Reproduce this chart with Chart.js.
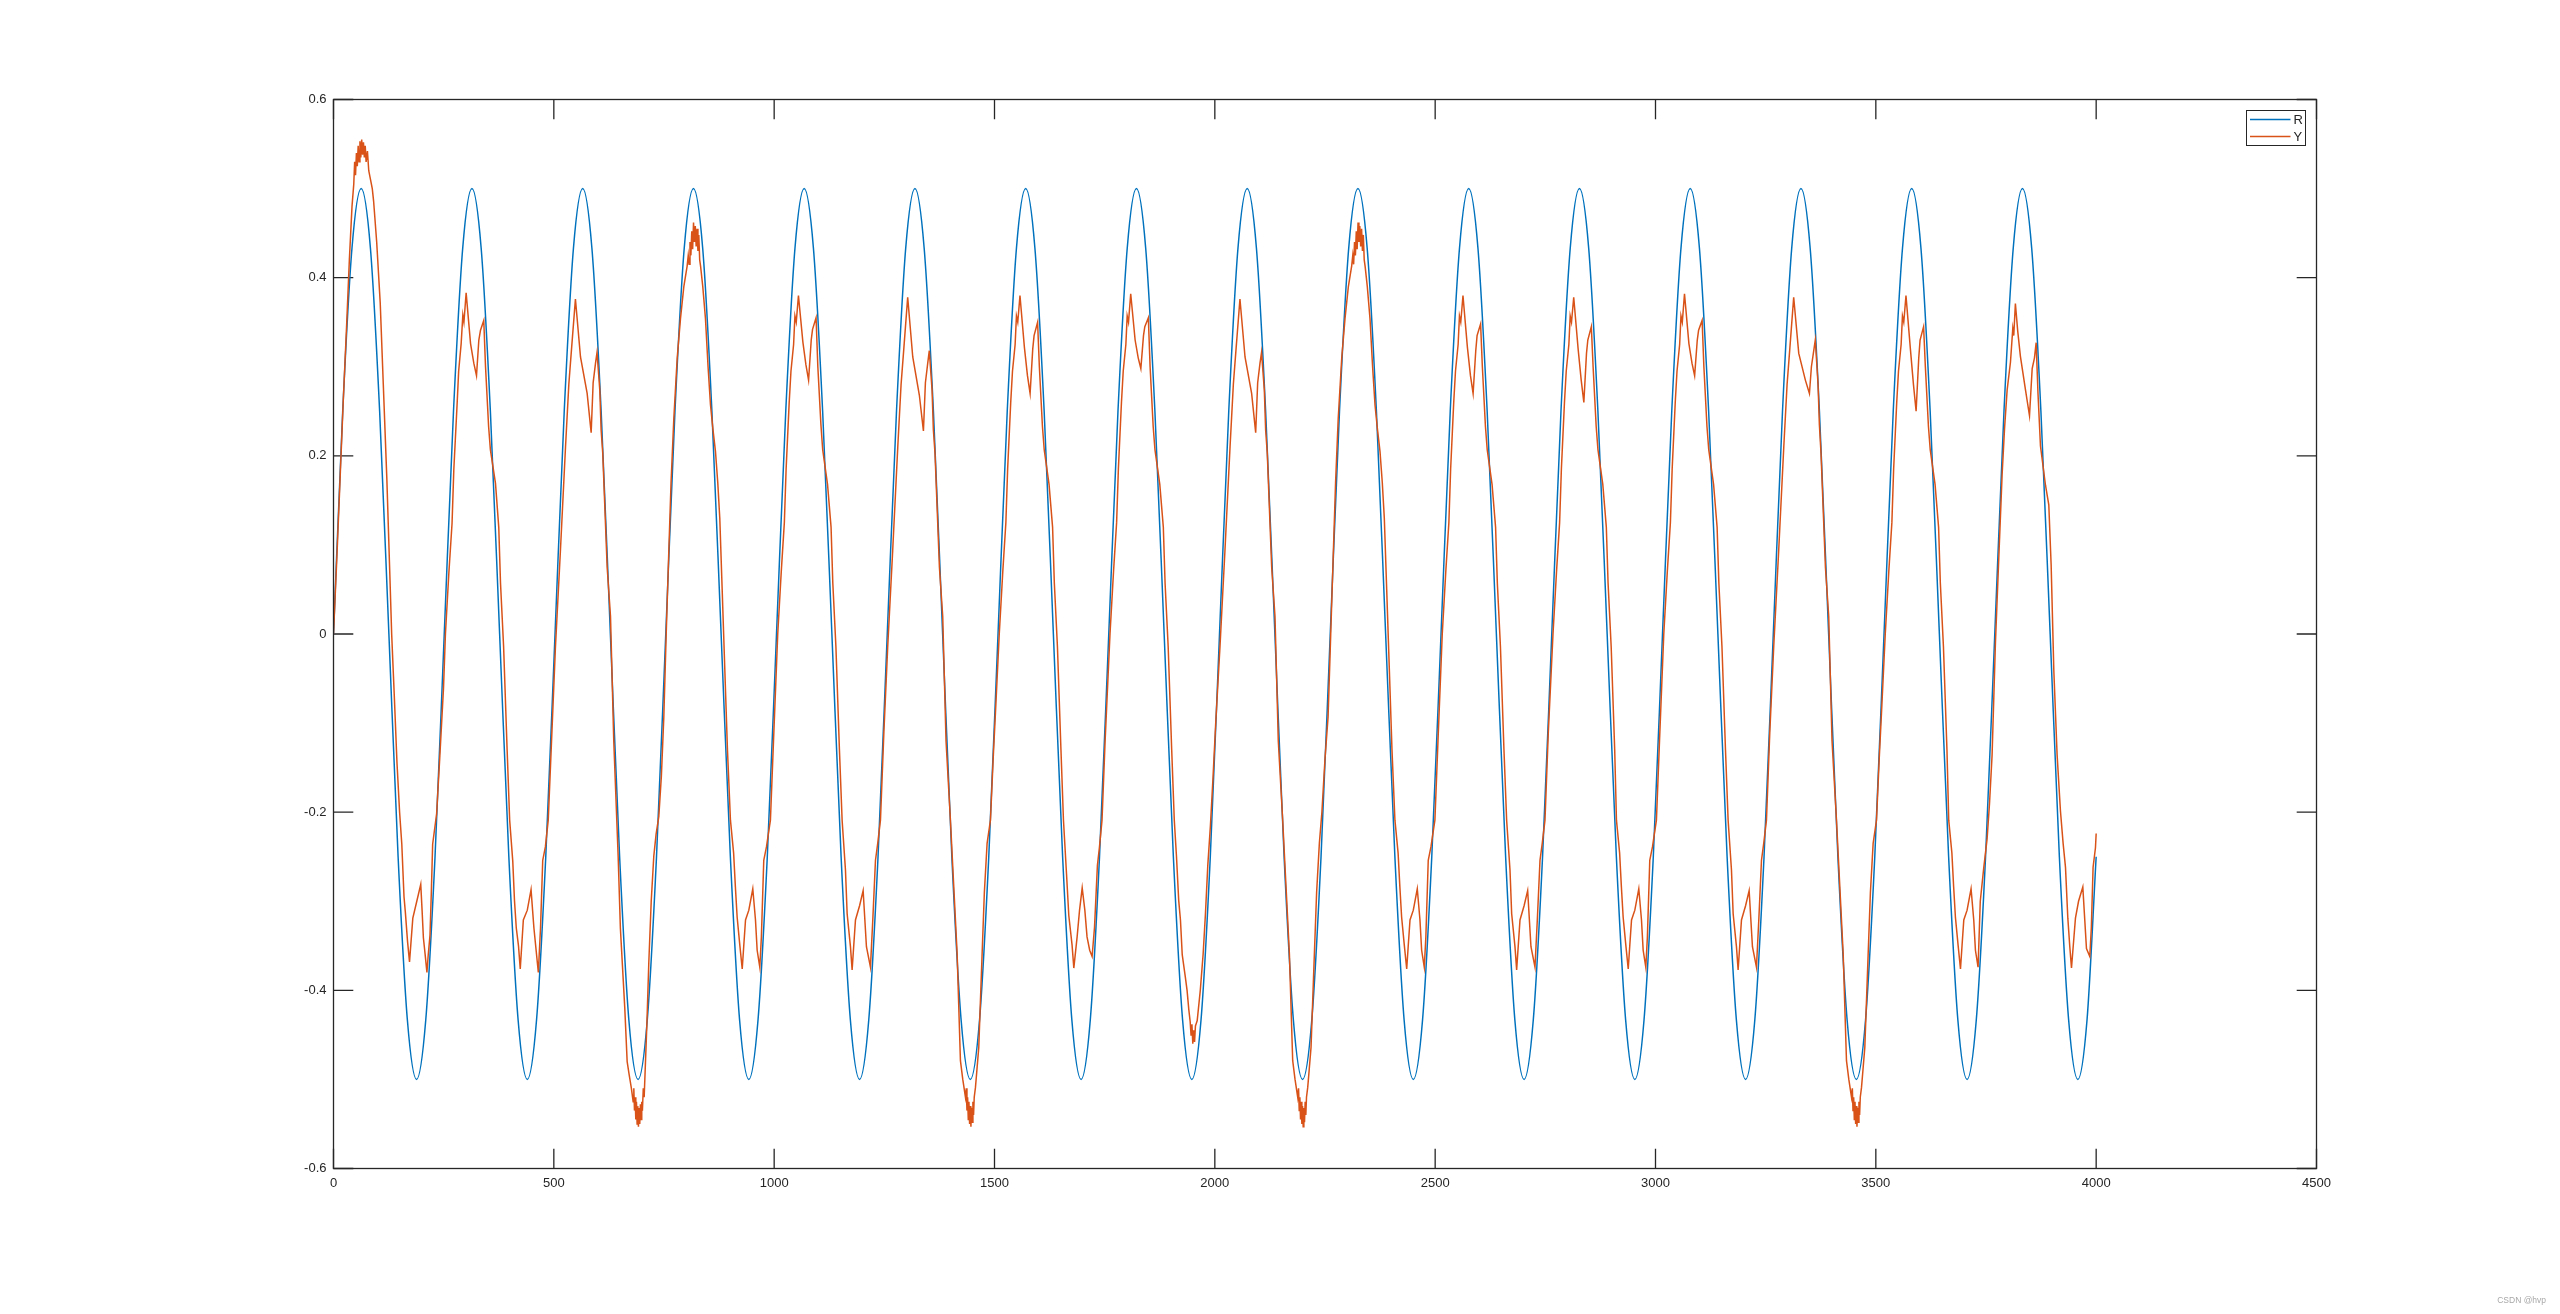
<!DOCTYPE html>
<html>
<head>
<meta charset="utf-8">
<script src="https://cdn.jsdelivr.net/npm/chart.js@4.4.1/dist/chart.umd.min.js"></script>
<style>
html,body{margin:0;padding:0;background:#ffffff;overflow:hidden;}
canvas{display:block;}
</style>
</head>
<body>
<canvas id="c" width="2560" height="1314" style="width:2560px;height:1314px"></canvas>
<script>
// ---------------- data ----------------
const seriesNames = ['R', 'Y'];
const xTicks = [0, 500, 1000, 1500, 2000, 2500, 3000, 3500, 4000, 4500];
const xTickLabels = ['0', '500', '1000', '1500', '2000', '2500', '3000', '3500', '4000', '4500'];
const yTicks = [-0.6, -0.4, -0.2, 0, 0.2, 0.4, 0.6];
const yTickLabels = ['-0.6', '-0.4', '-0.2', '0', '0.2', '0.4', '0.6'];
const watermark = 'CSDN @hvp';

// reference signal R
const rT = [
0,20.9,41.9,62.8,83.8,104.7,125.7,146.6,167.6,188.5,209.4,230.4,
251.3,272.3,293.2,314.2,335.1,356.0,377.0,397.9,418.9,439.8,460.8,481.7,
502.7,523.6,544.5,565.5,586.4,607.4,628.3,649.3,670.2,691.2,712.1,733.0,
754.0,774.9,795.9,816.8,837.8,858.7,879.6,900.6,921.5,942.5,963.4,984.4,
1005.3,1026.3,1047.2,1068.1,1089.1,1110.0,1131.0,1151.9,1172.9,1193.8,1214.7,1235.7,
1256.6,1277.6,1298.5,1319.5,1340.4,1361.4,1382.3,1403.2,1424.2,1445.1,1466.1,1487.0,
1508.0,1528.9,1549.8,1570.8,1591.7,1612.7,1633.6,1654.6,1675.5,1696.5,1717.4,1738.3,
1759.3,1780.2,1801.2,1822.1,1843.1,1864.0,1885.0,1905.9,1926.8,1947.8,1968.7,1989.7,
2010.6,2031.6,2052.5,2073.5,2094.4,2115.3,2136.3,2157.2,2178.2,2199.1,2220.1,2241.0,
2261.9,2282.9,2303.8,2324.8,2345.7,2366.7,2387.6,2408.6,2429.5,2450.4,2471.4,2492.3,
2513.3,2534.2,2555.2,2576.1,2597.1,2618.0,2638.9,2659.9,2680.8,2701.8,2722.7,2743.7,
2764.6,2785.5,2806.5,2827.4,2848.4,2869.3,2890.3,2911.2,2932.2,2953.1,2974.0,2995.0,
3015.9,3036.9,3057.8,3078.8,3099.7,3120.6,3141.6,3162.5,3183.5,3204.4,3225.4,3246.3,
3267.3,3288.2,3309.1,3330.1,3351.0,3372.0,3392.9,3413.9,3434.8,3455.8,3476.7,3497.6,
3518.6,3539.5,3560.5,3581.4,3602.4,3623.3,3644.2,3665.2,3686.1,3707.1,3728.0,3749.0,
3769.9,3790.8,3811.8,3832.7,3853.7,3874.6,3895.6,3916.5,3937.5,3958.4,3979.3,4000
];
const rV = [
0,0.25,0.433,0.5,0.433,0.25,0,-0.25,-0.433,-0.5,-0.433,-0.25,
0,0.25,0.433,0.5,0.433,0.25,0,-0.25,-0.433,-0.5,-0.433,-0.25,
0,0.25,0.433,0.5,0.433,0.25,0,-0.25,-0.433,-0.5,-0.433,-0.25,
0,0.25,0.433,0.5,0.433,0.25,0,-0.25,-0.433,-0.5,-0.433,-0.25,
0,0.25,0.433,0.5,0.433,0.25,0,-0.25,-0.433,-0.5,-0.433,-0.25,
0,0.25,0.433,0.5,0.433,0.25,0,-0.25,-0.433,-0.5,-0.433,-0.25,
0,0.25,0.433,0.5,0.433,0.25,0,-0.25,-0.433,-0.5,-0.433,-0.25,
0,0.25,0.433,0.5,0.433,0.25,0,-0.25,-0.433,-0.5,-0.433,-0.25,
0,0.25,0.433,0.5,0.433,0.25,0,-0.25,-0.433,-0.5,-0.433,-0.25,
0,0.25,0.433,0.5,0.433,0.25,0,-0.25,-0.433,-0.5,-0.433,-0.25,
0,0.25,0.433,0.5,0.433,0.25,0,-0.25,-0.433,-0.5,-0.433,-0.25,
0,0.25,0.433,0.5,0.433,0.25,0,-0.25,-0.433,-0.5,-0.433,-0.25,
0,0.25,0.433,0.5,0.433,0.25,0,-0.25,-0.433,-0.5,-0.433,-0.25,
0,0.25,0.433,0.5,0.433,0.25,0,-0.25,-0.433,-0.5,-0.433,-0.25,
0,0.25,0.433,0.5,0.433,0.25,0,-0.25,-0.433,-0.5,-0.433,-0.25,
0,0.25,0.433,0.5,0.433,0.25,0,-0.25,-0.433,-0.5,-0.433,-0.25
];

// response Y
const yT = [
0,8,15,22,30,36,42,46,48,50,52,54,56,58,60,62,64,66,68,70,72,74,77,80,84,88,91,98,106,113,121,127,132,138,
144,150,155,160,163,168,172.5,176,180,189,198,201,204,208,212,215,219,222,225,234,241,249.6,
254,261.7,269,273,280.6,284,289.7,293.5,296,301,311,318.4,324.5,329.8,333.6,341,345,352,356,367.6,375,379,386,394,
399.8,406.8,410.8,414.8,419.8,423.8,430.8,439.8,448.3,454.8,459.8,464.8,469.8,474.8,480.8,487.3,494.8,
503.7,515,526.5,534,540,549,560.5,575.6,584.7,589.2,594.6,598,604.3,607.3,611,621,628.6,636,
646,651,661,666.4,671,676,680,681.5,683,684.5,686,687.5,689,690.5,692,693.5,695,696.5,698,699.5,701,703,705,708,711,715.5,721,726.9,732,738.2,744,749.6,755,760.9,766,772.3,
780,787.4,795,802.5,805,807,809,811,813,815,817,819,821,823,825,827,829,831,833,838,844.1,850,855.5,861,866.8,872,876.6,882,888,894,
900.8,908,912,916,922,927.5,931,935,942.5,951.5,957.6,961.4,967.4,971,976.4,982.5,991.5,998.5,
1008.1,1016.1,1023.1,1027.1,1034.1,1038.1,1044.1,1047.1,1050.1,1055.1,1065.1,1072.1,1078.1,1084.1,1087.1,1095.1,1099.1,1106.1,1110.1,1121.1,1129.1,1133.1,1140.1,1148.1,
1154.2,1161.8,1165.6,1173.1,1176.9,1184.5,1193.8,1201.9,1209.4,1218.5,1223.8,1229.9,1235,1241.2,1249,
1257.7,1269,1280.5,1288,1294,1303,1314.5,1329.5,1338.7,1343.2,1348.5,1352,1358.3,1361.3,1365,1375,1382.5,1390,
1400,1407.6,1415.2,1422.7,1428,1434.1,1436,1437.5,1439,1440.5,1442,1443.5,1445,1446.5,1448,1449.5,1451,1452.5,1454,1456.8,1460,1464.3,1471.9,1477,1483.2,1490.8,1497,1503,
1510.8,1518.8,1525.8,1529.8,1536.8,1540.8,1546.8,1549.8,1552.8,1557.8,1567.8,1574.8,1580.8,1586.8,1589.8,1597.8,1601.8,1608.8,1612.8,1623.8,1631.8,1635.8,1642.8,1650.8,
1656.5,1663.5,1668.6,1676,1680,1687.5,1693,1699,1705,1710,1716,1721.5,1727,1733.5,1738,1744,1751,
1762.1,1770.1,1777.1,1781.1,1788.1,1792.1,1798.1,1801.1,1804.1,1809.1,1819.1,1826.1,1832.1,1838.1,1841.1,1849.1,1853.1,1860.1,1864.1,1875.1,1883.1,1887.1,1894.1,1902.1,
1908,1913,1918,1922,1926,1933,1937,1941,1944,1946,1948,1950,1952,1954,1956,1960,1967,1973.5,1978.7,1984,1990,1996,2002,
2011.7,2023,2034.5,2042,2048,2057,2068.5,2083.5,2092.7,2097.2,2102.5,2106,2112.3,2115.3,2119,2129,2136.5,2144,
2154,2161.6,2169.2,2176.7,2182,2188.1,2190,2191.5,2193,2194.5,2196,2197.5,2199,2200.5,2202,2203.5,2205,2206.5,2208,2210.8,2214,2218.3,2225.9,2231,2237.2,2243,2250,2257,2263,2269,2274,2280,
2288,2295.4,2303,2310.5,2313,2315,2317,2319,2321,2323,2325,2327,2329,2331,2333,2335,2337,2339,2341,2346,2352.1,2358,2363.5,2369,2374.8,2380,2384.6,2390,2396,2402,
2408.7,2415.9,2419.9,2423.9,2429.9,2435.4,2438.9,2442.9,2450.4,2459.4,2465.5,2469.3,2475.3,2478.9,2484.3,2490.4,2499.4,2506.4,
2516.1,2524.1,2531.1,2535.1,2542.1,2546.1,2552.1,2555.1,2558.1,2563.1,2573.1,2580.1,2586.1,2592.1,2595.1,2603.1,2607.1,2614.1,2618.1,2629.1,2637.1,2641.1,2648.1,2656.1,
2662.2,2669.8,2673.6,2681.1,2684.9,2692.5,2701.8,2709.9,2717.4,2726.5,2731.8,2737.9,2743,2749.2,2756.8,
2767.4,2775.4,2782.4,2786.4,2793.4,2797.4,2803.4,2806.4,2809.4,2814.4,2824.4,2831.4,2837.4,2843.4,2846.4,2854.4,2858.4,2865.4,2869.4,2880.4,2888.4,2892.4,2899.4,2907.4,
2911.4,2918.6,2922.6,2926.6,2932.6,2938.1,2941.6,2945.6,2953.1,2962.1,2968.2,2972,2978,2981.6,2987,2993.1,3002.1,3009.1,
3018.8,3026.8,3033.8,3037.8,3044.8,3048.8,3054.8,3057.8,3060.8,3065.8,3075.8,3082.8,3088.8,3094.8,3097.8,3105.8,3109.8,3116.8,3120.8,3131.8,3139.8,3143.8,3150.8,3158.8,
3164.8,3172.4,3176.2,3183.7,3187.5,3195.1,3204.4,3212.5,3220,3229.1,3234.4,3240.5,3245.6,3251.8,3259.4,
3268.3,3279.6,3291.1,3298.6,3304.6,3313.6,3325.1,3340.1,3349.3,3353.8,3359.1,3362.6,3368.9,3371.9,3375.6,3385.6,3393.1,3400.6,
3410.7,3418.3,3425.9,3433.4,3438.7,3444.8,3446.7,3448.2,3449.7,3451.2,3452.7,3454.2,3455.7,3457.2,3458.7,3460.2,3461.7,3463.2,3464.7,3467.5,3470.7,3475,3482.6,3487.7,3493.9,3501.5,3507.7,3513.7,
3521.4,3529.4,3536.4,3540.4,3547.4,3551.4,3557.4,3560.4,3563.4,3568.4,3578.4,3585.4,3591.4,3597.4,3600.4,3608.4,3612.4,3619.4,3623.4,3634.4,3642.4,3646.4,3653.4,3661.4,
3665.4,3672.6,3676.6,3680.6,3686.6,3692.1,3695.6,3699.6,3707.1,3716.1,3722.2,3726,3732,3737,3745,3752.5,3758,3763.8,3771.4,
3779,3786.6,3792,3798,3805.5,3810.8,3813,3816.7,3822,3828,3839.6,3848.7,3854.8,3860,3863.8,3868,3873.6,3885,3892.5,3897.8,3903.9,3911.4,3919,3925,3930.4,
3935.7,3940,3944,3948,3953,3960,3969.7,3974,3978,3985.5,3989,3993,3998.4,4000
];
const yV = [
0,0.09,0.175,0.26,0.349,0.42,0.48,0.505,0.53,0.515,0.54,0.525,0.548,0.53,0.553,0.535,0.555,0.538,0.552,0.535,0.548,0.53,0.542,0.52,0.51,0.5,0.486,0.44,0.372,0.28,0.175,0.08,0,-0.07,
-0.144,-0.2,-0.236,-0.295,-0.312,-0.345,-0.368,-0.345,-0.319,-0.3,-0.281,-0.31,-0.341,-0.36,-0.38,-0.36,-0.338,-0.29,-0.236,-0.202,-0.14,-0.061,
0,0.068,0.124,0.184,0.259,0.295,0.326,0.358,0.35,0.383,0.326,0.304,0.29,0.33,0.341,0.352,0.3,0.233,0.207,0.169,0.12,0.057,-0.014,-0.13,
-0.209,-0.255,-0.3,-0.33,-0.35,-0.376,-0.321,-0.31,-0.287,-0.33,-0.355,-0.38,-0.33,-0.254,-0.239,-0.209,-0.12,
-0.014,0.094,0.21,0.28,0.319,0.376,0.311,0.27,0.226,0.282,0.304,0.316,0.274,0.229,0.203,0.075,0.02,-0.12,
-0.25,-0.33,-0.42,-0.48,-0.495,-0.51,-0.525,-0.51,-0.535,-0.52,-0.545,-0.525,-0.55,-0.53,-0.553,-0.532,-0.55,-0.528,-0.545,-0.525,-0.535,-0.51,-0.52,-0.48,-0.44,-0.369,-0.3,-0.249,-0.225,-0.205,-0.16,-0.093,0,0.093,0.17,0.242,
0.31,0.354,0.39,0.413,0.425,0.415,0.44,0.425,0.452,0.432,0.462,0.44,0.458,0.435,0.455,0.43,0.448,0.42,0.413,0.39,0.354,0.3,0.257,0.23,0.205,0.17,0.13,0.05,-0.04,-0.13,
-0.209,-0.246,-0.284,-0.318,-0.349,-0.376,-0.35,-0.321,-0.31,-0.286,-0.321,-0.355,-0.374,-0.34,-0.254,-0.239,-0.209,-0.12,
0,0.07,0.125,0.185,0.26,0.295,0.325,0.357,0.35,0.38,0.328,0.302,0.285,0.33,0.342,0.355,0.3,0.235,0.207,0.168,0.12,0.057,-0.014,-0.13,
-0.209,-0.265,-0.314,-0.351,-0.377,-0.321,-0.305,-0.288,-0.351,-0.374,-0.321,-0.254,-0.235,-0.209,-0.11,
-0.014,0.094,0.21,0.28,0.319,0.378,0.311,0.268,0.228,0.282,0.304,0.318,0.274,0.229,0.203,0.075,0.02,-0.12,
-0.209,-0.284,-0.359,-0.479,-0.5,-0.52,-0.51,-0.535,-0.52,-0.545,-0.525,-0.55,-0.53,-0.553,-0.532,-0.548,-0.525,-0.54,-0.52,-0.509,-0.49,-0.464,-0.359,-0.29,-0.235,-0.209,-0.14,-0.08,
0,0.07,0.125,0.185,0.26,0.295,0.325,0.357,0.35,0.38,0.322,0.29,0.27,0.32,0.335,0.35,0.3,0.233,0.207,0.168,0.12,0.057,-0.014,-0.13,
-0.209,-0.27,-0.316,-0.349,-0.375,-0.34,-0.31,-0.285,-0.31,-0.34,-0.355,-0.362,-0.329,-0.26,-0.24,-0.209,-0.12,
0,0.07,0.125,0.185,0.26,0.295,0.325,0.357,0.35,0.382,0.33,0.31,0.298,0.335,0.345,0.355,0.3,0.233,0.207,0.168,0.12,0.057,-0.014,-0.13,
-0.209,-0.25,-0.299,-0.321,-0.36,-0.385,-0.4,-0.422,-0.435,-0.45,-0.438,-0.46,-0.445,-0.458,-0.44,-0.434,-0.4,-0.359,-0.314,-0.26,-0.215,-0.16,-0.1,
-0.014,0.094,0.21,0.28,0.319,0.376,0.311,0.27,0.226,0.282,0.304,0.316,0.274,0.229,0.203,0.075,0.02,-0.12,
-0.209,-0.284,-0.359,-0.479,-0.5,-0.52,-0.51,-0.535,-0.52,-0.545,-0.525,-0.55,-0.53,-0.553,-0.532,-0.548,-0.525,-0.54,-0.52,-0.509,-0.49,-0.464,-0.359,-0.29,-0.235,-0.2,-0.14,-0.093,0,0.093,0.17,0.242,
0.31,0.354,0.39,0.413,0.425,0.415,0.44,0.425,0.452,0.432,0.462,0.44,0.458,0.435,0.455,0.43,0.448,0.42,0.413,0.39,0.354,0.3,0.257,0.23,0.205,0.17,0.13,0.05,-0.04,-0.13,
-0.209,-0.246,-0.284,-0.318,-0.349,-0.376,-0.35,-0.321,-0.31,-0.286,-0.321,-0.355,-0.374,-0.34,-0.254,-0.239,-0.209,-0.12,
0,0.07,0.125,0.185,0.26,0.295,0.325,0.357,0.35,0.38,0.322,0.29,0.27,0.318,0.335,0.348,0.3,0.233,0.207,0.168,0.12,0.057,-0.014,-0.13,
-0.209,-0.265,-0.314,-0.351,-0.377,-0.321,-0.305,-0.288,-0.351,-0.374,-0.321,-0.254,-0.235,-0.209,-0.11,
0,0.07,0.125,0.185,0.26,0.295,0.325,0.357,0.35,0.378,0.32,0.285,0.26,0.315,0.33,0.345,0.3,0.233,0.207,0.168,0.12,0.057,-0.014,-0.13,
-0.209,-0.246,-0.284,-0.318,-0.349,-0.376,-0.35,-0.321,-0.31,-0.286,-0.321,-0.355,-0.374,-0.34,-0.254,-0.239,-0.209,-0.12,
0,0.07,0.125,0.185,0.26,0.295,0.325,0.357,0.35,0.382,0.326,0.304,0.29,0.33,0.341,0.352,0.3,0.233,0.207,0.168,0.12,0.057,-0.014,-0.13,
-0.209,-0.265,-0.314,-0.351,-0.377,-0.321,-0.305,-0.288,-0.351,-0.374,-0.321,-0.254,-0.235,-0.209,-0.11,
-0.014,0.094,0.21,0.28,0.319,0.378,0.315,0.285,0.27,0.3,0.318,0.33,0.28,0.235,0.203,0.075,0.02,-0.12,
-0.209,-0.284,-0.359,-0.479,-0.5,-0.52,-0.51,-0.535,-0.52,-0.545,-0.525,-0.55,-0.53,-0.553,-0.532,-0.548,-0.525,-0.54,-0.52,-0.509,-0.49,-0.464,-0.359,-0.29,-0.235,-0.209,-0.14,-0.08,
0,0.07,0.125,0.185,0.26,0.295,0.325,0.357,0.35,0.38,0.32,0.28,0.25,0.31,0.33,0.345,0.3,0.233,0.207,0.168,0.12,0.057,-0.014,-0.13,
-0.209,-0.246,-0.284,-0.318,-0.349,-0.376,-0.35,-0.321,-0.31,-0.286,-0.321,-0.355,-0.374,-0.3,-0.262,-0.23,-0.19,-0.136,-0.01,
0.085,0.179,0.23,0.274,0.305,0.343,0.335,0.371,0.34,0.312,0.274,0.245,0.298,0.31,0.327,0.27,0.211,0.167,0.145,0.078,-0.041,-0.136,-0.199,-0.235,-0.262,
-0.319,-0.35,-0.375,-0.35,-0.319,-0.3,-0.284,-0.32,-0.353,-0.362,-0.33,-0.262,-0.24,-0.224
];

// ---------------- styling ----------------
const AXIS_COLOR = '#262626';
const FONT_FAMILY = "'Liberation Sans', Arial, Helvetica, sans-serif";
const COLORS = { R: '#0072BD', Y: '#D95319' };

const toPoints = (ts, vs) => ts.map((t, i) => ({ x: t, y: vs[i] }));

const matlabAxes = {
  id: 'matlabAxes',
  beforeDatasetsDraw(chart) {
    const { ctx, chartArea: a, scales: { x, y } } = chart;
    const L = 19.8;
    ctx.save();
    ctx.strokeStyle = AXIS_COLOR;
    ctx.lineWidth = 1.3;
    ctx.beginPath();
    x.ticks.forEach(t => {
      const px = x.getPixelForValue(t.value);
      ctx.moveTo(px, a.bottom); ctx.lineTo(px, a.bottom - L);
      ctx.moveTo(px, a.top); ctx.lineTo(px, a.top + L);
    });
    y.ticks.forEach(t => {
      const py = y.getPixelForValue(t.value);
      ctx.moveTo(a.left, py); ctx.lineTo(a.left + L, py);
      ctx.moveTo(a.right, py); ctx.lineTo(a.right - L, py);
    });
    ctx.stroke();
    ctx.restore();
  },
  afterDraw(chart) {
    const { ctx, chartArea: a } = chart;
    ctx.save();
    ctx.strokeStyle = AXIS_COLOR;
    ctx.lineWidth = 1.3;
    ctx.strokeRect(a.left, a.top, a.right - a.left, a.bottom - a.top);

    // legend box (top-right, inside the axes)
    const lx = 2246.5, ly = 110.5, lw = 59, lh = 35;
    ctx.fillStyle = '#ffffff';
    ctx.fillRect(lx, ly, lw, lh);
    ctx.lineWidth = 1;
    ctx.strokeRect(lx, ly, lw, lh);
    ctx.font = '13px ' + FONT_FAMILY;
    ctx.textBaseline = 'middle';
    ctx.textAlign = 'left';
    const order = ['R', 'Y'];
    order.forEach((name, i) => {
      const ds = chart.data.datasets.find(d => d.label === name);
      const yy = ly + 9 + i * 17;
      ctx.strokeStyle = ds.borderColor;
      ctx.lineWidth = 1.5;
      ctx.beginPath();
      ctx.moveTo(lx + 3.5, yy);
      ctx.lineTo(lx + 44, yy);
      ctx.stroke();
      ctx.fillStyle = AXIS_COLOR;
      ctx.fillText(name, lx + 47, yy + 1);
    });

    // watermark
    ctx.font = '8.5px ' + FONT_FAMILY;
    ctx.fillStyle = '#a8a8a8';
    ctx.textAlign = 'right';
    ctx.textBaseline = 'alphabetic';
    ctx.fillText(watermark, 2546, 1303);
    ctx.restore();
  }
};

new Chart(document.getElementById('c'), {
  type: 'line',
  data: {
    datasets: [
      {
        label: seriesNames[0],
        data: toPoints(rT, rV),
        borderColor: COLORS.R,
        backgroundColor: COLORS.R,
        borderWidth: 1.5,
        pointRadius: 0,
        cubicInterpolationMode: 'monotone',
        fill: false,
        order: 1
      },
      {
        label: seriesNames[1],
        data: toPoints(yT, yV),
        borderColor: COLORS.Y,
        backgroundColor: COLORS.Y,
        borderWidth: 1.5,
        pointRadius: 0,
        tension: 0,
        fill: false,
        order: 0
      }
    ]
  },
  options: {
    responsive: false,
    animation: false,
    devicePixelRatio: 1,
    layout: { padding: { top: 99.5, right: 243.5, bottom: 0, left: 0 } },
    plugins: { legend: { display: false }, tooltip: { enabled: false } },
    scales: {
      x: {
        type: 'linear',
        position: 'bottom',
        min: 0, max: 4500,
        grid: { display: false, drawTicks: false, tickLength: 0 },
        border: { display: false },
        afterBuildTicks: s => { s.ticks = xTicks.map(v => ({ value: v })); },
        afterFit: s => { s.height = 145.5; },
        ticks: {
          autoSkip: false, maxRotation: 0, padding: 7,
          color: AXIS_COLOR,
          font: { family: FONT_FAMILY, size: 13 },
          callback: (v) => xTickLabels[xTicks.indexOf(v)]
        }
      },
      y: {
        type: 'linear',
        position: 'left',
        min: -0.6, max: 0.6,
        grid: { display: false, drawTicks: false, tickLength: 0 },
        border: { display: false },
        afterBuildTicks: s => { s.ticks = yTicks.map(v => ({ value: v })); },
        afterFit: s => { s.width = 333.5; },
        ticks: {
          autoSkip: false, padding: 7,
          color: AXIS_COLOR,
          font: { family: FONT_FAMILY, size: 13 },
          callback: (v) => yTickLabels[yTicks.indexOf(v)]
        }
      }
    }
  },
  plugins: [matlabAxes]
});
</script>
</body>
</html>
